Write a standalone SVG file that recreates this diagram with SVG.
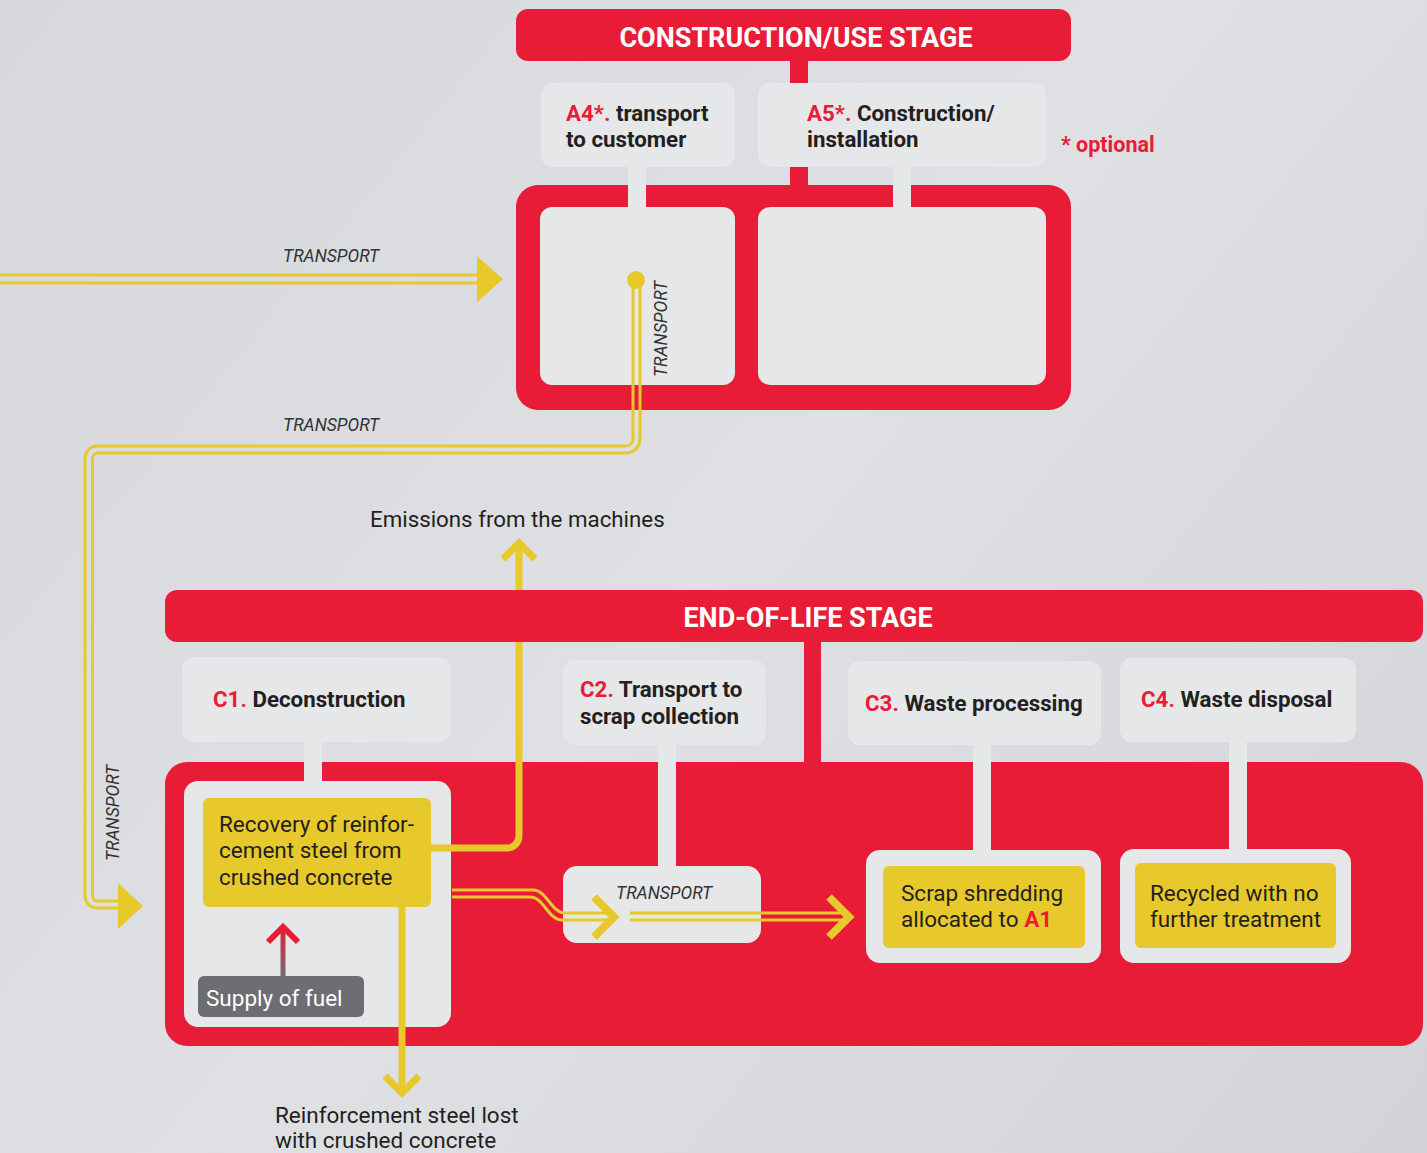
<svg xmlns="http://www.w3.org/2000/svg" width="1427" height="1153" viewBox="0 0 1427 1153">
<defs>
<linearGradient id="bg" gradientUnits="userSpaceOnUse" x1="0" y1="0" x2="1427" y2="1153">
<stop offset="0" stop-color="#d6d8db"/>
<stop offset="0.5" stop-color="#dfe0e3"/>
<stop offset="1" stop-color="#d2d4d7"/>
</linearGradient>
<linearGradient id="fuel" gradientUnits="userSpaceOnUse" x1="0" y1="976" x2="0" y2="925">
<stop offset="0" stop-color="#6d6e71"/>
<stop offset="1" stop-color="#e81c36"/>
</linearGradient>
<style>
.red{fill:#e81c36}
.lt{fill:#e6e7e9}
.yb{fill:#e8c92b}
.dk{fill:#6d6e71}
.hd{font-family:Roboto,"Liberation Sans",sans-serif;font-weight:700;font-size:27px;fill:#fff;text-anchor:middle}
.lb{font-family:Roboto,"Liberation Sans",sans-serif;font-weight:700;font-size:22.3px;fill:#231f20}
.rd{fill:#e81c36}
.tx{font-family:Roboto,"Liberation Sans",sans-serif;font-weight:400;font-size:22.5px;fill:#231f20}
.tr{font-family:Roboto,"Liberation Sans",sans-serif;font-style:italic;font-weight:400;font-size:17.5px;fill:#333}
.dl{fill:none;stroke:#e8c92b;stroke-width:3}
.th{fill:none;stroke:#e8c92b;stroke-width:7}
.ch{fill:none;stroke:#e8c92b;stroke-width:8;stroke-linejoin:miter}
</style>
</defs>
<rect width="1427" height="1153" fill="url(#bg)"/>

<!-- Construction / use stage -->
<g id="construction-stage">
<rect class="red" x="790" y="50" width="18" height="145"/>
<rect class="red" x="516" y="185" width="555" height="225" rx="22"/>
<rect class="red" x="516" y="9" width="555" height="52" rx="12"/>
<text class="hd" x="796" y="47">CONSTRUCTION/USE STAGE</text>
</g>
<g id="a4">
<rect class="lt" x="628" y="160" width="18" height="52"/>
<rect class="lt" x="541" y="83" width="194" height="84" rx="12"/>
<text class="lb" x="566" y="121"><tspan class="rd">A4*.</tspan> transport</text>
<text class="lb" x="566" y="147">to customer</text>
<rect class="lt" x="540" y="207" width="195" height="178" rx="12"/>
</g>
<g id="a5">
<rect class="lt" x="893" y="160" width="18" height="52"/>
<rect class="lt" x="758" y="83" width="288" height="84" rx="12"/>
<text class="lb" x="807" y="121"><tspan class="rd">A5*.</tspan> Construction/</text>
<text class="lb" x="807" y="147">installation</text>
<rect class="lt" x="758" y="207" width="288" height="178" rx="12"/>
</g>
<text id="optional" class="lb" x="1061" y="152" style="fill:#e81c36;font-size:21.5px">* optional</text>

<!-- End of life stage -->
<g id="eol-stage">
<rect class="red" x="804" y="636" width="17" height="134"/>
<rect class="red" x="165" y="762" width="1258" height="284" rx="22"/>
</g>
<g id="c1">
<rect class="lt" x="304" y="735" width="18" height="52"/>
<rect class="lt" x="182" y="657" width="269" height="85" rx="12"/>
<text class="lb" x="213" y="707"><tspan class="rd">C1.</tspan> Deconstruction</text>
<rect class="lt" x="184" y="781" width="267" height="246" rx="14"/>
</g>
<g id="recovery">
<rect class="yb" x="203" y="798" width="228" height="109" rx="6"/>
<text class="tx" x="219" y="832">Recovery of reinfor-</text>
<text class="tx" x="219" y="858">cement steel from</text>
<text class="tx" x="219" y="885">crushed concrete</text>
</g>
<g id="fuel-supply">
<rect class="dk" x="198" y="976" width="166" height="41" rx="6"/>
<text class="tx" x="206" y="1006" style="fill:#fff">Supply of fuel</text>
</g>
<g id="c2">
<rect class="lt" x="658" y="738" width="18" height="134"/>
<rect class="lt" x="563" y="660" width="203" height="85" rx="12"/>
<text class="lb" x="580" y="697"><tspan class="rd">C2.</tspan> Transport to</text>
<text class="lb" x="580" y="724">scrap collection</text>
<rect class="lt" x="563" y="866" width="198" height="77" rx="14"/>
<text class="tr" x="616" y="899">TRANSPORT</text>
</g>
<g id="c3">
<rect class="lt" x="973" y="738" width="18" height="118"/>
<rect class="lt" x="848" y="661" width="253" height="84" rx="12"/>
<text class="lb" x="865" y="711"><tspan class="rd">C3.</tspan> Waste processing</text>
<rect class="lt" x="866" y="850" width="235" height="113" rx="14"/>
<rect class="yb" x="883" y="866" width="202" height="82" rx="6"/>
<text class="tx" x="901" y="901">Scrap shredding</text>
<text class="tx" x="901" y="927">allocated to <tspan class="rd" style="font-weight:700">A1</tspan></text>
</g>
<g id="c4">
<rect class="lt" x="1229" y="735" width="18" height="120"/>
<rect class="lt" x="1120" y="658" width="236" height="84" rx="12"/>
<text class="lb" x="1141" y="707"><tspan class="rd">C4.</tspan> Waste disposal</text>
<rect class="lt" x="1120" y="849" width="231" height="114" rx="14"/>
<rect class="yb" x="1135" y="863" width="201" height="85" rx="6"/>
<text class="tx" x="1150" y="901">Recycled with no</text>
<text class="tx" x="1150" y="927">further treatment</text>
</g>

<!-- Connectors -->
<g id="connectors">
<path class="dl" d="M0,275 H482"/>
<path class="dl" d="M0,283 H482"/>
<path d="M477,256 L503,279 L477,302 Z" fill="#e8c92b"/>
<circle cx="636" cy="280" r="9" fill="#e8c92b"/>
<path class="dl" d="M633,285 V439 a7,7 0 0 1 -7,7 H97 a12,12 0 0 0 -12,12 V896 a12,12 0 0 0 12,12 H122"/>
<path class="dl" d="M640,285 V439 a14,14 0 0 1 -14,14 H98 a5.5,5.5 0 0 0 -5.5,5.5 V896 a5,5 0 0 0 5,5 H122"/>
<path d="M118,883 L143,906 L118,929 Z" fill="#e8c92b"/>
<path class="th" d="M431,848 H507 a12,12 0 0 0 12,-12 V545"/>
<path class="th" d="M503,559 L519,543 L535,559"/>
<path class="th" d="M402,907 V1090"/>
<path class="th" d="M385,1076 L402,1093 L419,1076"/>
<path class="dl" d="M452,890 H533 C547,890 551,913 565,913 H610"/>
<path class="dl" d="M452,897 H530 C544,897 548,920 562,920 H610"/>
<path class="ch" d="M594,897 L614,917 L594,937"/>
<path class="dl" d="M630,913 H845"/>
<path class="dl" d="M630,920 H845"/>
<path class="ch" d="M829,897 L849,917 L829,937"/>
<path d="M283,976 V930" fill="none" stroke="url(#fuel)" stroke-width="5"/>
<path d="M268,942 L283,927 L298,942" fill="none" stroke="#e81c36" stroke-width="6"/>
</g>

<g id="eol-header">
<rect class="red" x="165" y="590" width="1258" height="52" rx="12"/>
<text class="hd" x="808" y="627">END-OF-LIFE STAGE</text>
</g>

<text class="tr" x="283" y="262">TRANSPORT</text>
<text class="tr" x="283" y="431">TRANSPORT</text>
<text class="tr" transform="translate(667,329) rotate(-90)" text-anchor="middle">TRANSPORT</text>
<text class="tr" transform="translate(119,813) rotate(-90)" text-anchor="middle">TRANSPORT</text>
<text class="tx" x="370" y="527" style="font-size:22.3px">Emissions from the machines</text>
<text class="tx" x="275" y="1123">Reinforcement steel lost</text>
<text class="tx" x="275" y="1148">with crushed concrete</text>
</svg>
